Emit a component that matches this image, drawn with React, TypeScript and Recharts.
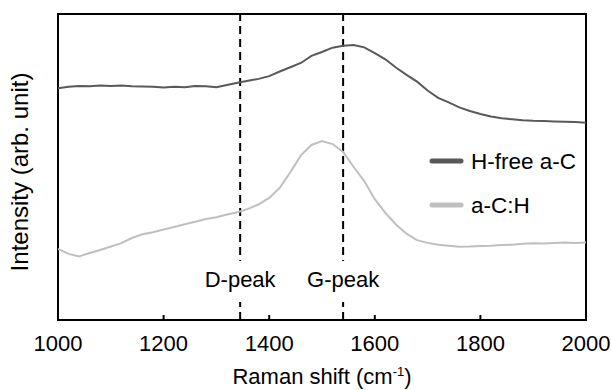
import React from 'react';
import { LineChart, Line, XAxis, YAxis, ReferenceLine, ReferenceArea, Legend } from 'recharts';

const ramanShift = [
  1000, 1020, 1040, 1060, 1080, 1100, 1120, 1140, 1160, 1180,
  1200, 1220, 1240, 1260, 1280, 1300, 1320, 1340, 1360, 1380,
  1400, 1420, 1440, 1460, 1480, 1500, 1520, 1540, 1560, 1580,
  1600, 1620, 1640, 1660, 1680, 1700, 1720, 1740, 1760, 1780,
  1800, 1820, 1840, 1860, 1880, 1900, 1920, 1940, 1960, 1980, 2000,
];

const hFree = [
  75.7, 76.2, 76.5, 76.4, 76.6, 76.5, 76.6, 76.4, 76.3, 76.2,
  76.0, 76.2, 76.1, 76.5, 76.4, 76.1, 76.8, 77.5, 78.2, 78.8,
  79.7, 81.2, 82.6, 84.0, 86.3, 87.6, 89.0, 89.6, 89.9, 89.1,
  87.2, 85.2, 82.5, 80.1, 77.9, 75.0, 72.6, 71.1, 69.5, 68.3,
  67.3, 66.5, 65.9, 65.6, 65.3, 65.1, 65.0, 64.9, 64.8, 64.7, 64.5,
];

const aCH = [
  23.2, 21.6, 20.8, 21.9, 22.9, 24.0, 25.1, 26.8, 28.0, 28.7,
  29.6, 30.4, 31.3, 32.1, 33.0, 33.6, 34.5, 35.2, 36.3, 37.8,
  39.9, 43.2, 48.3, 53.8, 57.2, 58.5, 57.5, 54.9, 50.0, 45.4,
  39.5, 35.0, 31.2, 28.2, 26.1, 25.2, 24.6, 24.3, 23.9, 24.0,
  24.2, 24.3, 24.5, 24.6, 24.9, 25.1, 25.0, 25.2, 25.3, 25.2, 25.3,
];

const xTicks = [1000, 1200, 1400, 1600, 1800, 2000];
const peaks = [
  { x: 1345, label: 'D-peak' },
  { x: 1540, label: 'G-peak' },
];
const seriesNames = ['H-free a-C', 'a-C:H'];
const seriesColors = ['#595959', '#bfbfbf'];

const data = ramanShift.map((x, i) => ({ x, hFree: hFree[i], aCH: aCH[i] }));

const FONT = 'Liberation Sans, Arial, sans-serif';

const XTick = (props: any) => {
  const { x, y, payload } = props;
  return (
    <g>
      <line x1={x} x2={x} y1={y} y2={y - 5} stroke="#000" strokeWidth={2} />
      <text x={x} y={y + 31} textAnchor="middle" fontSize={22} fontFamily={FONT} fill="#000">
        {payload.value}
      </text>
    </g>
  );
};

const XLabel = () => (
  <text x={322} y={384} textAnchor="middle" fontSize={22} fontFamily={FONT} fill="#000">
    <tspan>Raman shift (cm</tspan>
    <tspan dy={-8} fontSize={13}>-1</tspan>
    <tspan dy={8}>)</tspan>
  </text>
);

const YLabel = () => (
  <text
    x={28}
    y={172}
    transform="rotate(-90, 28, 172)"
    textAnchor="middle"
    fontSize={24}
    fontFamily={FONT}
    fill="#000"
  >
    Intensity (arb. unit)
  </text>
);

const makePeakLabel = (text: string) => (props: any) => {
  const vb = props.viewBox || {};
  const cx = vb.x;
  return (
    <g>
      <rect x={cx - 4} y={261} width={8} height={41} fill="#fff" />
      <text x={cx} y={287} textAnchor="middle" fontSize={22} fontFamily={FONT} fill="#000">
        {text}
      </text>
    </g>
  );
};

const LegendContent = () => (
  <svg width={180} height={80}>
    {seriesNames.map((name, i) => (
      <g key={name}>
        <line
          x1={12}
          x2={41}
          y1={21 + i * 44}
          y2={21 + i * 44}
          stroke={seriesColors[i]}
          strokeWidth={5}
          strokeLinecap="round"
        />
        <text x={51} y={28.5 + i * 44} fontSize={22.5} fontFamily={FONT} fill="#000">
          {name}
        </text>
      </g>
    ))}
  </svg>
);

export default function App() {
  return (
    <div style={{ position: 'absolute', left: 0, top: 0, width: 612, height: 390, background: '#fff' }}>
      <LineChart
        width={612}
        height={390}
        data={data}
        margin={{ top: 14, right: 26, bottom: 0, left: 0 }}
      >
        <XAxis
          dataKey="x"
          type="number"
          domain={[1000, 2000]}
          ticks={xTicks}
          height={70}
          tickSize={0}
          tickMargin={0}
          tickLine={false}
          axisLine={{ stroke: '#000', strokeWidth: 2 }}
          tick={<XTick />}
          label={<XLabel />}
          allowDataOverflow
        />
        <YAxis
          type="number"
          domain={[0, 100]}
          width={58}
          tick={false}
          tickLine={false}
          axisLine={false}
          label={<YLabel />}
          allowDataOverflow
        />
        <ReferenceArea
          x1={1000}
          x2={2000}
          y1={0}
          y2={100}
          fill="none"
          fillOpacity={0}
          stroke="#000"
          strokeWidth={2}
          ifOverflow="visible"
        />
        {peaks.map((p) => (
          <ReferenceLine
            key={p.label}
            x={p.x}
            stroke="#000"
            strokeWidth={2}
            strokeDasharray="8 5"
            label={makePeakLabel(p.label)}
          />
        ))}
        <Line
          type="linear"
          dataKey="hFree"
          name={seriesNames[0]}
          stroke={seriesColors[0]}
          strokeWidth={2}
          dot={false}
          isAnimationActive={false}
        />
        <Line
          type="linear"
          dataKey="aCH"
          name={seriesNames[1]}
          stroke={seriesColors[1]}
          strokeWidth={2}
          dot={false}
          isAnimationActive={false}
        />
        <Legend
          layout="vertical"
          align="center"
          verticalAlign="middle"
          content={<LegendContent />}
          wrapperStyle={{ position: 'absolute', left: 420, top: 140, width: 180, height: 80 }}
        />
      </LineChart>
    </div>
  );
}
